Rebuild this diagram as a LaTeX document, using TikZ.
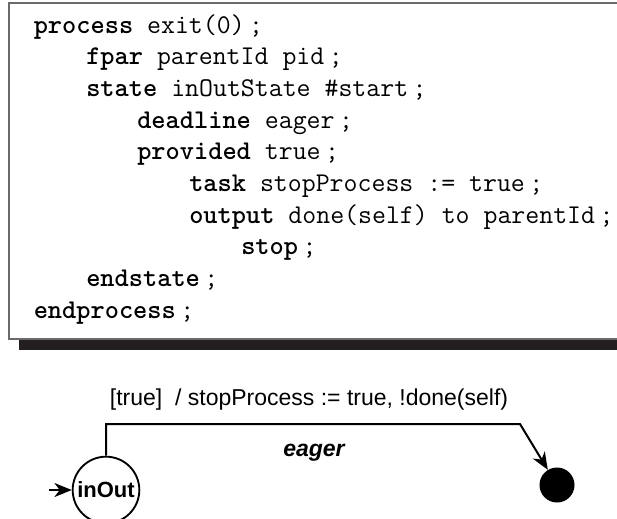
\documentclass[tikz,border=0pt]{standalone}
\usepackage{fontspec}
\newfontfamily\diagfont{Liberation Sans}
\usetikzlibrary{arrows.meta}
\definecolor{shadowc}{HTML}{231F20}
\definecolor{boxc}{HTML}{6A6A6A}
\begin{document}
\begin{tikzpicture}[x=0.75pt,y=-0.75pt,
  code/.style={anchor=base west,inner sep=0pt,font=\fontsize{20.3}{24}\selectfont\ttfamily},
  lbl/.style={anchor=base,inner sep=0pt,font=\diagfont\fontsize{17.25}{20}\selectfont},
  statebox/.style={draw,circle,line width=1.4pt,minimum size=50pt,inner sep=0pt,font=\diagfont\bfseries\fontsize{16.5}{18}\selectfont},
  finalbox/.style={fill=black,circle,minimum size=26.25pt,inner sep=0pt},
  conn/.style={line width=1.5pt,-{Stealth[length=13pt,width=10.5pt,inset=4pt]}},
  plain/.style={line width=1.5pt}]
\useasboundingbox (0,0) rectangle (617,518);
\clip (0,0) rectangle (617,518);
% code box
\fill[shadowc] (19,339) rectangle (640,350);
\draw[boxc,line width=0.9pt,fill=white] (9,3) rectangle (640,339);
\node[code] (l0) at (33.5,33) {\textbf{process} exit(0)\,;};
\node[code] (l1) at (86,64.7) {\textbf{fpar} parentId pid\,;};
\node[code] (l2) at (86,96.4) {\textbf{state} inOutState \#start\,;};
\node[code] (l3) at (137,128.1) {\textbf{deadline} eager\,;};
\node[code] (l4) at (137,159.8) {\textbf{provided} true\,;};
\node[code] (l5) at (189,191.5) {\textbf{task} stopProcess := true\,;};
\node[code] (l6) at (189,223.2) {\textbf{output} done(self) to parentId\,;};
\node[code] (l7) at (241,254.9) {\textbf{stop}\,;};
\node[code] (l8) at (86,286.6) {\textbf{endstate}\,;};
\node[code] (l9) at (33.5,318.3) {\textbf{endprocess}\,;};
% diagram
\node[statebox] (inout) at (106,490) {inOut};
\node[finalbox] (fin) at (557,485) {};
\coordinate (start) at (49,490);
\coordinate (c1) at (106,424);
\coordinate (c2) at (520,424);
\draw[conn] (start) -- (inout.west);
\draw[conn] (inout.north) -- (c1) -- (c2) -- (fin);
\node[lbl] (guard) at (309,405) {[true]\ \ / stopProcess := true, !done(self)};
\node[lbl,font=\diagfont\bfseries\itshape\fontsize{17.25}{20}\selectfont] (eager) at (314,456) {eager};
\end{tikzpicture}
\end{document}
